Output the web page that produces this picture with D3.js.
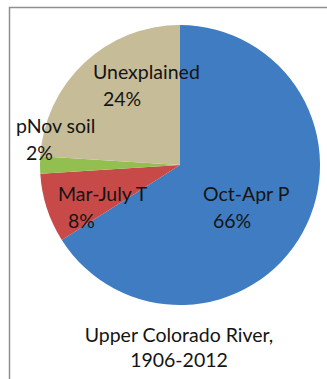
<!DOCTYPE html>
<meta charset='utf-8'>
<html>
<head>
    <script src='https://d3js.org/d3.v7.min.js'></script>
    <style>
        html, body { margin: 0; padding: 0; background: white; }
        svg { display: block; }
        text { font-family: Lato, 'Open Sans', sans-serif; fill: #141414; }
    </style>
</head>
<body>
<script>
    const width = 327;
    const height = 379;

    // data, clockwise from 12 o'clock
    const categories = ['Oct-Apr P', 'Mar-July T', 'pNov soil', 'Unexplained'];
    const shares = [66, 8, 2, 24];
    const colours = ['#3f7cc2', '#c84a48', '#93bf50', '#c6bc98'];
    const titleLines = ['Upper Colorado River,', '1906-2012'];

    // where each label's first line starts (left edge, baseline)
    const labelPos = [[203, 201], [58, 201], [16, 133], [93, 79]];

    const cx = 180, cy = 165, radius = 140;

    const svg = d3.select('body')
        .append('svg')
        .attr('width', width)
        .attr('height', height);

    // frame (top and left edges visible)
    svg.append('path')
        .attr('d', 'M9.5,' + height + 'V7.5H' + width)
        .attr('fill', 'none')
        .attr('stroke', '#8c8f93')
        .attr('stroke-width', 1.5);

    const pie = d3.pie().sort(null).value(d => d);
    const arc = d3.arc().innerRadius(0).outerRadius(radius);

    const g = svg.append('g').attr('transform', 'translate(' + cx + ',' + cy + ')');

    g.selectAll('path.slice')
        .data(pie(shares))
        .enter()
        .append('path')
        .attr('class', 'slice')
        .attr('d', arc)
        .attr('fill', (d, i) => colours[i]);

    // labels: name and percentage, second line indented a little
    const labels = svg.selectAll('g.label')
        .data(categories)
        .enter()
        .append('g')
        .attr('class', 'label');

    labels.append('text')
        .attr('x', (d, i) => labelPos[i][0])
        .attr('y', (d, i) => labelPos[i][1])
        .style('font-size', '19.5px')
        .text(d => d);

    labels.append('text')
        .attr('x', (d, i) => labelPos[i][0] + 10)
        .attr('y', (d, i) => labelPos[i][1] + 27)
        .style('font-size', '19.5px')
        .text((d, i) => shares[i] + '%');

    svg.selectAll('text.title')
        .data(titleLines)
        .enter()
        .append('text')
        .attr('class', 'title')
        .attr('x', 179)
        .attr('y', (d, i) => 342 + i * 25)
        .attr('text-anchor', 'middle')
        .style('font-size', '19.5px')
        .text(d => d);
</script>
</body>
</html>
